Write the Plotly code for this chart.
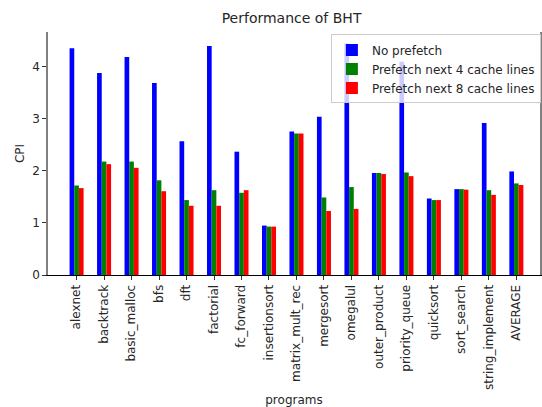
import plotly.graph_objects as go

programs = ["alexnet", "backtrack", "basic_malloc", "bfs", "dft", "factorial", "fc_forward",
            "insertionsort", "matrix_mult_rec", "mergesort", "omegalul", "outer_product",
            "priority_queue", "quicksort", "sort_search", "string_implement", "AVERAGE"]
no_prefetch = [4.36, 3.88, 4.19, 3.69, 2.57, 4.40, 2.37, 0.95, 2.76, 3.04, 4.45, 1.96, 4.10, 1.47, 1.65, 2.92, 1.99]
prefetch4 = [1.72, 2.18, 2.18, 1.82, 1.44, 1.63, 1.58, 0.93, 2.72, 1.49, 1.69, 1.96, 1.97, 1.44, 1.65, 1.63, 1.76]
prefetch8 = [1.67, 2.13, 2.06, 1.61, 1.33, 1.33, 1.63, 0.93, 2.72, 1.23, 1.27, 1.94, 1.90, 1.44, 1.64, 1.54, 1.73]

series = [("No prefetch", no_prefetch, "#0000ff"),
          ("Prefetch next 4 cache lines", prefetch4, "#008000"),
          ("Prefetch next 8 cache lines", prefetch8, "#ff0000")]

fig = go.Figure()
for name, vals, col in series:
    fig.add_trace(go.Bar(x=programs, y=vals, name=name, marker=dict(color=col, line=dict(width=0))))

font = "DejaVu Sans"
fig.update_layout(
    width=542, height=407,
    margin=dict(l=48, r=0, t=32, b=132),
    paper_bgcolor="white", plot_bgcolor="white",
    barmode="group", bargap=0.49, bargroupgap=0,
    font=dict(family=font, size=12, color="#262626"),
    title=dict(text="Performance of BHT", xref="paper", x=0.495, xanchor="center",
               y=0.955, yanchor="middle", font=dict(size=14, color="#262626")),
    showlegend=True,
    legend=dict(x=0.575, y=0.99, xanchor="left", yanchor="top",
                bgcolor="rgba(255,255,255,0.8)", bordercolor="#cccccc", borderwidth=1,
                font=dict(size=12), tracegroupgap=0, itemwidth=30),
)
fig.update_xaxes(
    range=[-1.04, 16.86], showline=True, linecolor="black", linewidth=1, mirror=False,
    ticks="outside", ticklen=4, tickcolor="#333", tickangle=-90, showgrid=False,
    title=dict(text="programs", font=dict(size=12), standoff=6),
)
fig.update_yaxes(
    range=[0, 4.67], showline=True, linecolor="#808080", linewidth=1.5, mirror=True,
    ticks="outside", ticklen=4, tickcolor="#333", tickvals=[0, 1, 2, 3, 4], showgrid=False,
    zeroline=False, title=dict(text="CPI", font=dict(size=12), standoff=5),
)
fig.write_html("out.html")
